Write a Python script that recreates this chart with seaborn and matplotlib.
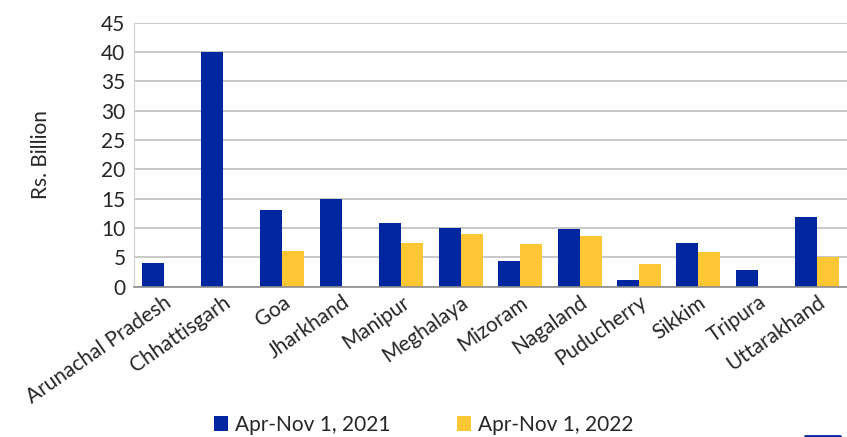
import numpy as np
import pandas as pd
import matplotlib
matplotlib.use("Agg")
import matplotlib.pyplot as plt
import seaborn as sns
from matplotlib.patches import Patch
from matplotlib.lines import Line2D

states = ['Arunachal Pradesh', 'Chhattisgarh', 'Goa', 'Jharkhand', 'Manipur', 'Meghalaya',
          'Mizoram', 'Nagaland', 'Puducherry', 'Sikkim', 'Tripura', 'Uttarakhand']
vals_2021 = [4.0, 40.0, 13.0, 15.0, 10.8, 10.0, 4.3, 9.8, 1.2, 7.5, 2.9, 11.9]
vals_2022 = [np.nan, np.nan, 6.0, np.nan, 7.4, 8.9, 7.3, 8.7, 3.9, 5.9, np.nan, 5.0]
series = ['Apr-Nov 1, 2021', 'Apr-Nov 1, 2022']
colors = ['#0027A0', '#FFC733']

df = pd.DataFrame({
    'State': states * 2,
    'Value': vals_2021 + vals_2022,
    'Period': [series[0]] * len(states) + [series[1]] * len(states),
})

sns.set_style('white')
plt.rcParams['font.family'] = ['Lato', 'DejaVu Sans']
fs = 15

fig = plt.figure(figsize=(8.47, 4.37), dpi=100)
ax = fig.add_axes([0.158, 0.344, 0.842, 0.604])

sns.barplot(data=df, x='State', y='Value', hue='Period', palette=colors,
            width=0.74, gap=0, saturation=1, legend=False, ax=ax, linewidth=0)

ax.set_xlim(-0.5, len(states) - 0.5)
ax.set_ylim(0, 45)
ax.set_yticks(range(0, 46, 5))
ax.yaxis.grid(True, color='#BFBFBF', linewidth=1.2)
ax.set_axisbelow(True)
for s in ['top', 'right']:
    ax.spines[s].set_visible(False)
ax.spines['left'].set_color('#D0D0D0')
ax.spines['bottom'].set_color('#8C8C8C')
ax.spines['bottom'].set_linewidth(1.2)

ax.set_xticks(np.arange(-0.5, len(states), 1.0), minor=True)
ax.tick_params(axis='x', which='minor', length=7, width=1.2, color='#8C8C8C')
ax.tick_params(axis='x', which='major', length=0, pad=4)
ax.tick_params(axis='y', length=0, labelsize=fs, pad=6)
ax.set_xticks(range(len(states)))
ax.set_xticklabels(states, rotation=35, ha='right', rotation_mode='anchor', fontsize=fs)

ax.set_xlabel('')
ax.set_ylabel('Rs. Billion', fontsize=fs, labelpad=36)

handles = [Patch(facecolor=c, edgecolor='none') for c in colors]
fig.legend(handles, series, loc='center', bbox_to_anchor=(0.5, 0.028), ncol=2,
           frameon=False, fontsize=fs, handlelength=0.7, handleheight=0.7,
           handletextpad=0.3, columnspacing=3.2)

fig.add_artist(Line2D([0.951, 0.992], [0.003, 0.003], color='#0027A0', linewidth=2))

fig.savefig('out.png', dpi=100)
